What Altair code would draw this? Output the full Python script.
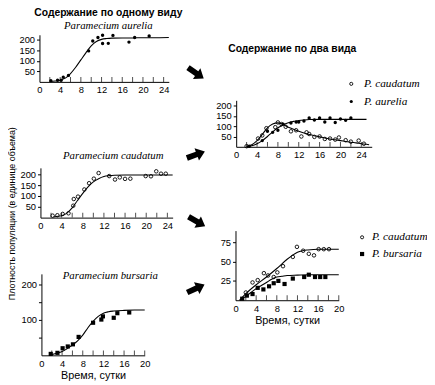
import altair as alt
import pandas as pd

# ---------------- data ----------------
# Panel 1: P. aurelia alone
a1_t = [2.2, 3.5, 4.2, 4.6, 5.6, 9.5, 10.3, 11.3, 12.2, 12.2, 13.3, 14.2, 17.3, 18.4, 21.2]
a1_v = [6, 8, 8, 22, 31, 148, 195, 212, 223, 183, 184, 222, 190, 212, 219]
a1_ct = [2, 3, 4, 5, 6, 7, 8, 9, 10, 11, 12, 13, 14, 16, 18, 20, 22, 25]
a1_cv = [2, 4, 8, 18, 40, 70, 105, 140, 172, 193, 203, 207, 209, 210, 210, 211, 211, 212]

# Panel 2: P. caudatum alone
c1_t = [2.3, 3.2, 4.2, 5.3, 6.2, 6.3, 7.1, 8.3, 9.2, 10.1, 11.0, 13.0, 14.1, 15.0, 16.0, 17.0,
        19.9, 20.9, 21.9, 22.8, 23.7]
c1_v = [9, 11, 17, 20, 55, 86, 97, 130, 159, 180, 206, 192, 176, 186, 179, 180, 192, 191, 214, 203, 203]
c1_ct = [2.5, 3, 4, 5, 6, 7, 8, 9, 10, 11, 12, 13, 14, 16, 18, 20, 25]
c1_cv = [3, 5, 9, 21, 45, 79, 112, 142, 165, 180, 190, 194, 196, 197, 197, 197, 197]

# Panel 3: P. bursaria alone
b1_t = [1.8, 3.1, 4.1, 5.1, 6.1, 7.2, 10.0, 11.6, 11.9, 14.0, 14.7, 17.0]
b1_v = [4, 7, 20, 25, 31, 52, 92, 101, 110, 106, 119, 121]
b1_ct = [2, 3, 4, 5, 6, 7, 8, 9, 10, 11, 12, 13, 14, 16, 18, 20]
b1_cv = [2, 6, 11, 19, 29, 41, 57, 78, 96, 110, 119, 123, 125, 127, 128, 128]

# Panel 4: P. caudatum + P. aurelia together
c2_t = [2, 4.2, 5, 5.8, 7.5, 8, 8.7, 9.5, 10.5, 11.5, 12.5, 13.5, 14, 15, 16, 17, 18, 19, 19.7,
        21, 22, 23.5, 24.5]
c2_v = [3, 40, 55, 90, 95, 118, 110, 97, 75, 80, 50, 70, 62, 48, 50, 38, 40, 35, 45, 32, 25, 30, 15]
c2_ct = [2, 3, 4, 5, 6, 7, 8, 9, 10, 11, 12, 13, 14, 15, 16, 17, 18, 19, 20, 21, 22, 23, 24, 25, 25.5]
c2_cv = [2, 10, 30, 60, 92, 110, 116, 108, 95, 85, 75, 67, 60, 54, 48, 43, 38, 34, 30, 26, 22, 19,
         15, 12, 10]
a2_t = [2.5, 5, 6, 7, 8, 9, 10.5, 11.5, 12, 13, 14, 15, 16, 17, 18, 19, 20, 21, 22]
a2_v = [3, 30, 75, 70, 80, 110, 115, 120, 120, 125, 140, 130, 140, 120, 140, 118, 135, 128, 140]
a2_ct = [2, 3, 4, 5, 6, 7, 8, 9, 10, 11, 12, 13, 14, 16, 20, 25]
a2_cv = [1, 5, 15, 30, 50, 72, 92, 106, 116, 123, 127, 130, 132, 133, 133, 133]

# Panel 5: P. caudatum + P. bursaria together
c3_t = [2.0, 3.3, 4.3, 5.5, 6.3, 7.4, 8.1, 9.2, 11.1, 11.9, 13.1, 14.2, 15.2, 16.1, 17.1, 18.1]
c3_v = [10, 23, 26, 35, 32, 30, 36, 44, 56, 69, 64, 60, 58, 66, 66, 66]
c3_ct = [0.8, 2, 4, 6, 8, 10, 11, 12, 13, 14, 16, 18, 20]
c3_cv = [0, 8.5, 20, 30, 41, 53, 58, 62, 64, 65, 66, 66, 66]
b2_t = [1.3, 2.2, 3.3, 4.3, 5.4, 6.5, 7.4, 8.3, 9.5, 11.1, 13.3, 14.2, 15.4, 16.4, 17.4]
b2_v = [2, 6, 8, 16, 14, 18, 22, 25, 21, 28, 30, 33, 30, 30, 30]
b2_ct = [0.8, 2, 3, 4, 5, 6, 7, 8, 9, 10, 12, 14, 20]
b2_cv = [0, 5, 10, 15, 19, 23, 27, 30, 31, 32, 32.5, 33, 33]

# tick labels
x_lab24 = [0, 4, 8, 12, 16, 20, 24]
x_tick24 = [2, 4, 6, 8, 10, 12, 14, 16, 18, 20, 22, 24]
x_lab20 = [0, 4, 8, 12, 16, 20]
x_tick20 = [2, 4, 6, 8, 10, 12, 14, 16, 18, 20]
y_lab200 = [50, 100, 150, 200]
y_lab75 = [25, 50, 75]

# ---------------- layout helpers ----------------
W, H = 426, 374
SANS = "Liberation Sans"
SERIF = "Liberation Serif"


def X(p):
    return p - 8


def Y(p):
    return p - 8


def panel(series, xdom, xpix, ydom, ypix, xlabels, xticks, ylabels, ylabel_expr=None, xtitle=None):
    xs = alt.Scale(domain=xdom, range=[X(xpix[0]), X(xpix[1])], nice=False, zero=False)
    ys = alt.Scale(domain=ydom, range=[Y(ypix[0]), Y(ypix[1])], nice=False, zero=False)
    xa_kw = dict(orient="bottom", offset=Y(ypix[0]) - H, values=xlabels, ticks=False, grid=False,
                 labelFont=SANS, labelFontSize=9.5, labelPadding=3, labelColor="black",
                 domainColor="black", labelFlush=False)
    if xtitle:
        xa_kw.update(title=xtitle, titleFont=SANS, titleFontSize=11, titleFontWeight="normal",
                     titleColor="black", titlePadding=2)
    else:
        xa_kw.update(title=None)
    xa = alt.Axis(**xa_kw)
    ya_kw = dict(orient="left", offset=-X(xpix[0]), values=ylabels, tickSize=3, grid=False,
                 labelFont=SANS, labelFontSize=9.5, labelPadding=2, labelColor="black",
                 domainColor="black", tickColor="black", title=None, labelFlush=False)
    if ylabel_expr:
        ya_kw.update(labelExpr=ylabel_expr)
    ya = alt.Axis(**ya_kw)

    layers = []
    tick_df = pd.DataFrame({"t": xticks, "v": [0] * len(xticks)})
    layers.append(
        alt.Chart(tick_df).mark_tick(orient="vertical", size=5, thickness=1, yOffset=-2.5, color="black")
        .encode(x=alt.X("t:Q", scale=xs, axis=xa), y=alt.Y("v:Q", scale=ys, axis=ya))
    )
    for (pt, pv, ct, cv, kind) in series:
        cdf = pd.DataFrame({"t": ct, "v": cv})
        layers.append(
            alt.Chart(cdf).mark_line(color="black", strokeWidth=1.1, interpolate="monotone")
            .encode(x=alt.X("t:Q", scale=xs, axis=xa), y=alt.Y("v:Q", scale=ys, axis=ya))
        )
        pdf = pd.DataFrame({"t": pt, "v": pv})
        if kind == "open":
            mk = alt.Chart(pdf).mark_point(shape="circle", filled=False, size=13, color="black",
                                           strokeWidth=0.9, opacity=1)
        elif kind == "dot":
            mk = alt.Chart(pdf).mark_point(shape="circle", filled=True, size=12, color="black", opacity=1)
        else:
            mk = alt.Chart(pdf).mark_point(shape="square", filled=True, size=18, color="black", opacity=1)
        layers.append(mk.encode(x=alt.X("t:Q", scale=xs, axis=xa), y=alt.Y("v:Q", scale=ys, axis=ya)))
    return alt.layer(*layers)


DUMMY = alt.Data(values=[{"k": 1}])


def text(txt, x, y, size, font=SANS, weight="normal", style="normal", angle=0, align="center"):
    return alt.Chart(DUMMY).mark_text(text=txt, font=font, fontSize=size, fontWeight=weight,
                                      fontStyle=style, angle=angle, align=align, baseline="middle",
                                      color="black").encode(x=alt.value(X(x)), y=alt.value(Y(y)))


def symbol(shape, filled, size, x, y, angle=0):
    return alt.Chart(DUMMY).mark_point(shape=shape, filled=filled, size=size, color="black", opacity=1,
                                       strokeWidth=0.9, angle=angle).encode(
        x=alt.value(X(x)), y=alt.value(Y(y)))


ARROW = "M-1,-0.3 L0.1,-0.3 L0.1,-0.68 L1,0 L0.1,0.68 L0.1,0.3 L-1,0.3 Z"

p1 = panel([(a1_t, a1_v, a1_ct, a1_cv, "dot")], [0, 25], [40, 171.5], [0, 225], [80, 32.1],
           x_lab24, x_tick24, y_lab200)
p2 = panel([(c1_t, c1_v, c1_ct, c1_cv, "open")], [0, 25], [41, 175.4], [0, 230], [218, 167.4],
           x_lab24, x_tick24, y_lab200)
p3 = panel([(b1_t, b1_v, b1_ct, b1_cv, "square")], [0, 20], [42, 147], [0, 230], [358, 275.2],
           x_lab20, x_tick20, [50, 100, 150, 200],
           ylabel_expr="datum.value % 100 == 0 ? datum.label : ''", xtitle="Время, сутки")
p4 = panel([(c2_t, c2_v, c2_ct, c2_cv, "open"), (a2_t, a2_v, a2_ct, a2_cv, "dot")],
           [0, 26], [240, 377.8], [0, 225], [146, 98.75], x_lab24, x_tick24, y_lab200)
p5 = panel([(c3_t, c3_v, c3_ct, c3_cv, "open"), (b2_t, b2_v, b2_ct, b2_cv, "square")],
           [0, 20], [239.3, 344.3], [0, 90], [302, 231.2], x_lab20, x_tick20, y_lab75,
           xtitle="Время, сутки")

decor = [
    text("Содержание по одному виду", 110, 10, 10.5, weight="bold"),
    text("Paramecium aurelia", 110, 23, 11, font=SERIF, style="italic"),
    text("Paramecium caudatum", 115, 155, 11, font=SERIF, style="italic"),
    text("Paramecium bursaria", 112, 277, 11, font=SERIF, style="italic"),
    text("Содержание по два вида", 297, 47, 10.5, weight="bold"),
    text("Плотность популяции (в единице объема)", 12, 214, 9, angle=270),
    symbol("circle", False, 10, 357, 82),
    text("P. caudatum", 370, 82, 11.5, font=SERIF, style="italic", align="left"),
    symbol("circle", True, 10, 357, 100),
    text("P. aurelia", 370, 100, 11.5, font=SERIF, style="italic", align="left"),
    symbol("circle", False, 10, 368, 238),
    text("P. caudatum", 378, 238, 11.5, font=SERIF, style="italic", align="left"),
    symbol("square", True, 18, 368, 255),
    text("P. bursaria", 378, 255, 11.5, font=SERIF, style="italic", align="left"),
    symbol(ARROW, True, 380, 199, 71, angle=35),
    symbol(ARROW, True, 380, 199, 154, angle=340),
    symbol(ARROW, True, 380, 200, 222, angle=30),
    symbol(ARROW, True, 380, 199, 290, angle=335),
]

chart = (
    alt.layer(p1, p2, p3, p4, p5, *decor)
    .resolve_scale(x="independent", y="independent")
    .properties(width=W, height=H, padding=0, autosize=alt.AutoSizeParams(type="none"))
    .configure_view(strokeWidth=0)
    .configure_axis(grid=False)
)

chart.save("out.html", embed_options={"renderer": "svg", "actions": False})
